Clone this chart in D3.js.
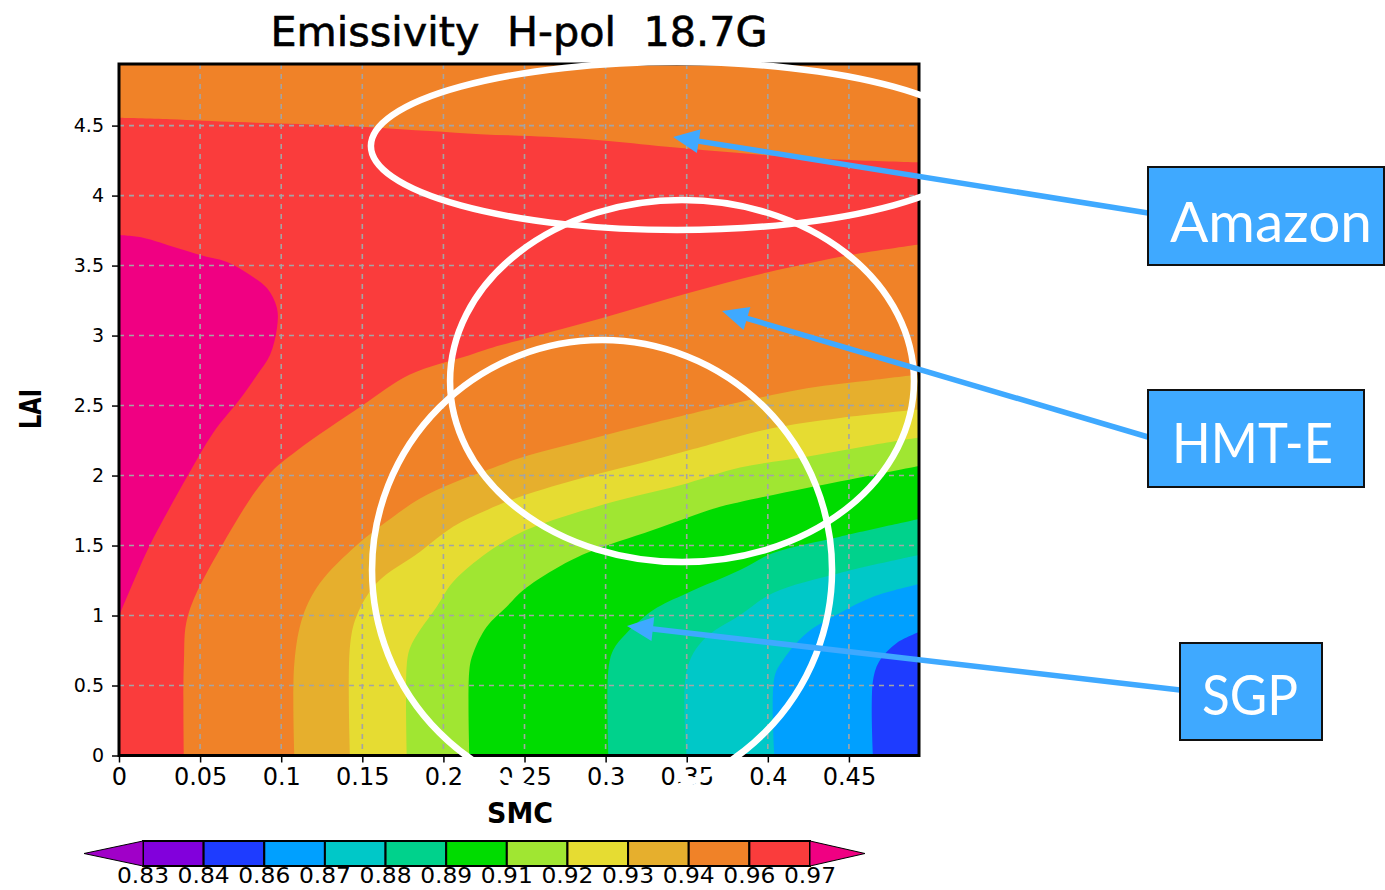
<!DOCTYPE html>
<html>
<head>
<meta charset="utf-8">
<script src="https://cdn.jsdelivr.net/npm/d3@7"></script>
<style>
  html, body { margin: 0; padding: 0; background: #fff; }
  svg { display: block; }
</style>
</head>
<body>
<svg id="chart" width="1385" height="890"></svg>
<script>
// ---- Contour levels and GrADS rainbow fills ----
// levelColors[k] fills values below levelLabels[k]; the last colour is above the top level.
const levelLabels = ["0.83","0.84","0.86","0.87","0.88","0.89","0.91","0.92","0.93","0.94","0.96","0.97"];
const levelColors = ["#a000c8","#8200dc","#1e3cff","#00a0ff","#00c8c8","#00d28c","#00dc00",
                     "#a0e632","#e6dc32","#e6af2d","#f08228","#fa3c3c","#f00082"];

// ---- Axes ----
const smcTicks = [0, 0.05, 0.1, 0.15, 0.2, 0.25, 0.3, 0.35, 0.4, 0.45];
const smcTickLabels = ["0","0.05","0.1","0.15","0.2","0.25","0.3","0.35","0.4","0.45"];
const laiTicks = [0, 0.5, 1, 1.5, 2, 2.5, 3, 3.5, 4, 4.5];
const laiTickLabels = ["0","0.5","1","1.5","2","2.5","3","3.5","4","4.5"];
const smcMax = 0.4932;
const laiMax = 4.94;

// ---- Contour boundaries, [SMC, LAI] ----
// 0.97 contour: closed against the left edge
const edge097 = [[0,3.718],[0.0148,3.699],[0.0358,3.625],[0.0499,3.575],[0.0666,3.525],[0.0808,3.432],
  [0.0912,3.339],[0.0974,3.196],[0.0974,3.054],[0.0931,2.861],[0.0851,2.718],[0.0746,2.546],
  [0.058,2.304],[0.0419,1.989],[0.0191,1.504],[0.0086,1.232],[0,0.996]];
// 0.96 contour, upper branch (left edge to right edge)
const edge096Upper = [[0,4.556],[0.0314,4.546],[0.0727,4.525],[0.1116,4.511],[0.1547,4.489],[0.1917,4.461],
  [0.2226,4.439],[0.2534,4.425],[0.2965,4.396],[0.3379,4.349],[0.3995,4.289],[0.4507,4.254],[0.4932,4.237]];
// 0.96 contour, lower branch (bottom edge to right edge)
const edge096Lower = [[0.040,0],[0.040,0.66],[0.0425,1.0],[0.0635,1.5],[0.091,1.99],[0.110,2.18],
  [0.150,2.50],[0.179,2.72],[0.216,2.86],[0.235,2.93],[0.2515,2.98],[0.298,3.125],[0.350,3.30],
  [0.3995,3.45],[0.451,3.575],[0.4932,3.65]];
// Lower contours, each from the bottom edge to the right edge
const edge094 = [[0.1081,0],[0.1081,0.661],[0.1134,0.996],[0.1239,1.232],[0.1467,1.504],[0.1689,1.704],
  [0.1856,1.836],[0.2059,1.946],[0.2269,2.039],[0.2472,2.125],[0.2885,2.254],[0.3292,2.375],
  [0.3705,2.491],[0.3829,2.525],[0.4242,2.623],[0.4649,2.682],[0.4932,2.721]];
const edge093 = [[0.1424,0],[0.1424,0.78],[0.1465,0.996],[0.1589,1.232],[0.1856,1.456],[0.2059,1.634],
  [0.2269,1.754],[0.2472,1.849],[0.2885,1.991],[0.3292,2.111],[0.3705,2.241],[0.3829,2.282],
  [0.4032,2.339],[0.4445,2.411],[0.4932,2.471]];
const edge092 = [[0.1774,0],[0.1774,0.646],[0.1794,0.768],[0.1856,0.896],[0.1959,1.063],[0.2059,1.239],
  [0.2267,1.446],[0.2472,1.589],[0.2676,1.682],[0.3089,1.825],[0.35,1.944],[0.3829,2.057],
  [0.424,2.134],[0.4649,2.218],[0.4932,2.271]];
const edge091 = [[0.216,0],[0.216,0.611],[0.2184,0.732],[0.2267,0.92],[0.239,1.063],[0.2493,1.182],
  [0.2678,1.325],[0.2883,1.446],[0.3292,1.611],[0.3705,1.777],[0.3829,1.811],[0.424,1.911],
  [0.4649,2.004],[0.4932,2.068]];
const edge089 = [[0.3017,0],[0.3017,0.611],[0.3047,0.754],[0.313,0.875],[0.3294,1.039],[0.35,1.159],
  [0.3829,1.325],[0.4032,1.446],[0.4445,1.563],[0.4932,1.689]];
const edge088 = [[0.35,0],[0.35,0.611],[0.3602,0.825],[0.3829,1.004],[0.4032,1.161],[0.4445,1.304],[0.4932,1.432]];
const edge087 = [[0.4041,0],[0.4041,0.561],[0.4094,0.682],[0.424,0.875],[0.4445,1.018],[0.4649,1.134],[0.4932,1.225]];
const edge086 = [[0.4649,0],[0.4649,0.539],[0.4692,0.682],[0.4795,0.804],[0.4932,0.882]];

// ---- Site annotations (SMC, LAI) ----
const sites = ["Amazon", "HMT-E", "SGP"];
const siteCenters = [[0.344, 4.354], [0.3471, 2.675], [0.2978, 1.325]];
const siteRadii = [[0.1887, 0.60], [0.143, 1.293], [0.1418, 1.643]];
const arrowTips = [[0.3416, 4.418], [0.3718, 3.175], [0.3132, 0.925]];

// ---- Layout ----
const plot = { left: 119, right: 919, top: 64, bottom: 755.5 };
const siteBoxes = [
  { x: 1148, y: 167, w: 236, h: 98, tx: 1271, ty: 242, tl: 202, ax: 1148, ay: 213 },
  { x: 1148, y: 390, w: 216, h: 97, tx: 1252.5, ty: 463, tl: 161, ax: 1148, ay: 437 },
  { x: 1180, y: 643, w: 142, h: 97, tx: 1250, ty: 715, tl: 96, ax: 1180, ay: 690 }
];
const calloutBlue = "#3fa9ff";

const svg = d3.select("#chart");
const x = d3.scaleLinear().domain([0, smcMax]).range([plot.left, plot.right]);
const y = d3.scaleLinear().domain([0, laiMax]).range([plot.bottom, plot.top]);

svg.append("defs").append("clipPath").attr("id", "plotClip")
  .append("rect")
  .attr("x", plot.left).attr("y", plot.top)
  .attr("width", plot.right - plot.left).attr("height", plot.bottom - plot.top);

const field = svg.append("g").attr("clip-path", "url(#plotClip)");
const line = d3.line().x(d => x(d[0])).y(d => y(d[1])).curve(d3.curveCatmullRom.alpha(0.5));
const colorBelow = lab => levelColors[levelLabels.indexOf(lab)];

// background band 0.94–0.96
field.append("rect")
  .attr("x", plot.left).attr("y", plot.top)
  .attr("width", plot.right - plot.left).attr("height", plot.bottom - plot.top)
  .attr("fill", colorBelow("0.96"));

// 0.96–0.97 band between the two branches of the 0.96 contour
const lowerRev = edge096Lower.slice().reverse();
const redPath = line(edge096Upper)
  + `L${x(smcMax)},${y(edge096Lower[edge096Lower.length - 1][1])}`
  + line(lowerRev).replace(/^M/, "L")
  + `L${x(0)},${y(0)}Z`;
field.append("path").attr("d", redPath).attr("fill", colorBelow("0.97"));

// above 0.97
field.append("path").attr("d", line(edge097) + "Z")
  .attr("fill", levelColors[levelColors.length - 1]);

// nested lower bands, painted from the highest level down
const lowerBands = [
  { edge: edge094, lab: "0.94" }, { edge: edge093, lab: "0.93" }, { edge: edge092, lab: "0.92" },
  { edge: edge091, lab: "0.91" }, { edge: edge089, lab: "0.89" }, { edge: edge088, lab: "0.88" },
  { edge: edge087, lab: "0.87" }, { edge: edge086, lab: "0.86" }
];
lowerBands.forEach(b => {
  field.append("path")
    .attr("d", line(b.edge) + `L${x(smcMax)},${y(0)}Z`)
    .attr("fill", colorBelow(b.lab));
});

// grid
const grid = svg.append("g").attr("stroke", "#a4a4a4").attr("stroke-width", 1.6)
  .attr("stroke-dasharray", "5,5");
grid.selectAll(".gx").data(smcTicks.filter(d => d > 0)).join("line")
  .attr("x1", d => x(d)).attr("x2", d => x(d))
  .attr("y1", plot.top).attr("y2", plot.bottom);
grid.selectAll(".gy").data(laiTicks.filter(d => d > 0)).join("line")
  .attr("y1", d => y(d)).attr("y2", d => y(d))
  .attr("x1", plot.left).attr("x2", plot.right);

// frame
svg.append("rect")
  .attr("x", plot.left).attr("y", plot.top)
  .attr("width", plot.right - plot.left).attr("height", plot.bottom - plot.top)
  .attr("fill", "none").attr("stroke", "#000").attr("stroke-width", 3);

// axes
const xAxis = svg.append("g").attr("transform", `translate(0,${plot.bottom})`)
  .call(d3.axisBottom(x).tickValues(smcTicks).tickSize(7).tickPadding(5)
    .tickFormat((d, i) => smcTickLabels[i]));
xAxis.select(".domain").remove();
xAxis.selectAll("line").attr("stroke", "#000").attr("stroke-width", 1.5);
xAxis.selectAll("text").attr("font-family", "DejaVu Sans").attr("font-size", 24).attr("fill", "#000");

const yAxis = svg.append("g").attr("transform", `translate(${plot.left},0)`)
  .call(d3.axisLeft(y).tickValues(laiTicks).tickSize(7).tickPadding(8)
    .tickFormat((d, i) => laiTickLabels[i]));
yAxis.select(".domain").remove();
yAxis.selectAll("line").attr("stroke", "#000").attr("stroke-width", 1.5);
yAxis.selectAll("text").attr("font-family", "DejaVu Sans").attr("font-size", 19).attr("fill", "#000");

// titles
svg.append("text")
  .attr("x", (plot.left + plot.right) / 2).attr("y", 46)
  .attr("text-anchor", "middle")
  .attr("font-family", "DejaVu Sans").attr("font-size", 40)
  .attr("word-spacing", 14)
  .attr("stroke", "#000").attr("stroke-width", 0.6)
  .attr("textLength", 497).attr("lengthAdjust", "spacingAndGlyphs")
  .text("Emissivity H-pol 18.7G");

svg.append("text")
  .attr("x", 520).attr("y", 823)
  .attr("text-anchor", "middle")
  .attr("font-family", "DejaVu Sans").attr("font-weight", "bold").attr("font-size", 29)
  .attr("textLength", 66).attr("lengthAdjust", "spacingAndGlyphs")
  .text("SMC");

svg.append("text")
  .attr("transform", "translate(41,409) rotate(-90)")
  .attr("text-anchor", "middle")
  .attr("font-family", "DejaVu Sans").attr("font-weight", "bold").attr("font-size", 30)
  .attr("textLength", 40).attr("lengthAdjust", "spacingAndGlyphs")
  .text("LAI");

// colour bar
const cbTop = 841, cbBot = 866;
const cb = d3.scaleLinear().domain([0, levelLabels.length - 1]).range([143, 810]);
const cbar = svg.append("g");
d3.range(levelLabels.length - 1).forEach(i => {
  cbar.append("rect")
    .attr("x", cb(i)).attr("y", cbTop)
    .attr("width", cb(i + 1) - cb(i)).attr("height", cbBot - cbTop)
    .attr("fill", levelColors[i + 1])
    .attr("stroke", "#000").attr("stroke-width", 2);
});
const cbMid = (cbTop + cbBot) / 2;
cbar.append("path")
  .attr("d", `M${cb(0)},${cbTop}L${cb(0) - 59},${cbMid}L${cb(0)},${cbBot}Z`)
  .attr("fill", levelColors[0]).attr("stroke", "#000").attr("stroke-width", 1);
const last = levelLabels.length - 1;
cbar.append("path")
  .attr("d", `M${cb(last)},${cbTop}L${cb(last) + 55},${cbMid}L${cb(last)},${cbBot}Z`)
  .attr("fill", levelColors[levelColors.length - 1]).attr("stroke", "#000").attr("stroke-width", 1);
cbar.selectAll("text.cbl").data(levelLabels).join("text")
  .attr("class", "cbl")
  .attr("x", (d, i) => cb(i)).attr("y", 883)
  .attr("text-anchor", "middle")
  .attr("font-family", "DejaVu Sans").attr("font-size", 21)
  .attr("textLength", 52).attr("lengthAdjust", "spacingAndGlyphs")
  .text(d => d);

// site outlines
const notes = svg.append("g");
sites.forEach((s, i) => {
  const c = siteCenters[i], r = siteRadii[i];
  notes.append("ellipse")
    .attr("cx", x(c[0])).attr("cy", y(c[1]))
    .attr("rx", x(r[0]) - x(0)).attr("ry", y(0) - y(r[1]))
    .attr("fill", "none").attr("stroke", "#fff").attr("stroke-width", 6.5);
});

// arrows and labels
sites.forEach((s, i) => {
  const b = siteBoxes[i];
  const tx = x(arrowTips[i][0]), ty = y(arrowTips[i][1]);
  const dx = tx - b.ax, dy = ty - b.ay, len = Math.hypot(dx, dy);
  const ux = dx / len, uy = dy / len;
  const headLen = 26, headHalf = 12;
  const bx = tx - ux * headLen, by = ty - uy * headLen;
  notes.append("line")
    .attr("x1", b.ax).attr("y1", b.ay).attr("x2", bx + ux * 2).attr("y2", by + uy * 2)
    .attr("stroke", calloutBlue).attr("stroke-width", 5.5);
  notes.append("path")
    .attr("d", `M${tx},${ty}L${bx - uy * headHalf},${by + ux * headHalf}L${bx + uy * headHalf},${by - ux * headHalf}Z`)
    .attr("fill", calloutBlue);
  notes.append("rect")
    .attr("x", b.x).attr("y", b.y).attr("width", b.w).attr("height", b.h)
    .attr("fill", calloutBlue).attr("stroke", "#111").attr("stroke-width", 2);
  notes.append("text")
    .attr("x", b.tx).attr("y", b.ty)
    .attr("text-anchor", "middle")
    .attr("font-family", "Lato, 'Open Sans', sans-serif").attr("font-size", 56)
    .attr("fill", "#fff")
    .attr("textLength", b.tl).attr("lengthAdjust", "spacingAndGlyphs")
    .text(s);
});
</script>
</body>
</html>
